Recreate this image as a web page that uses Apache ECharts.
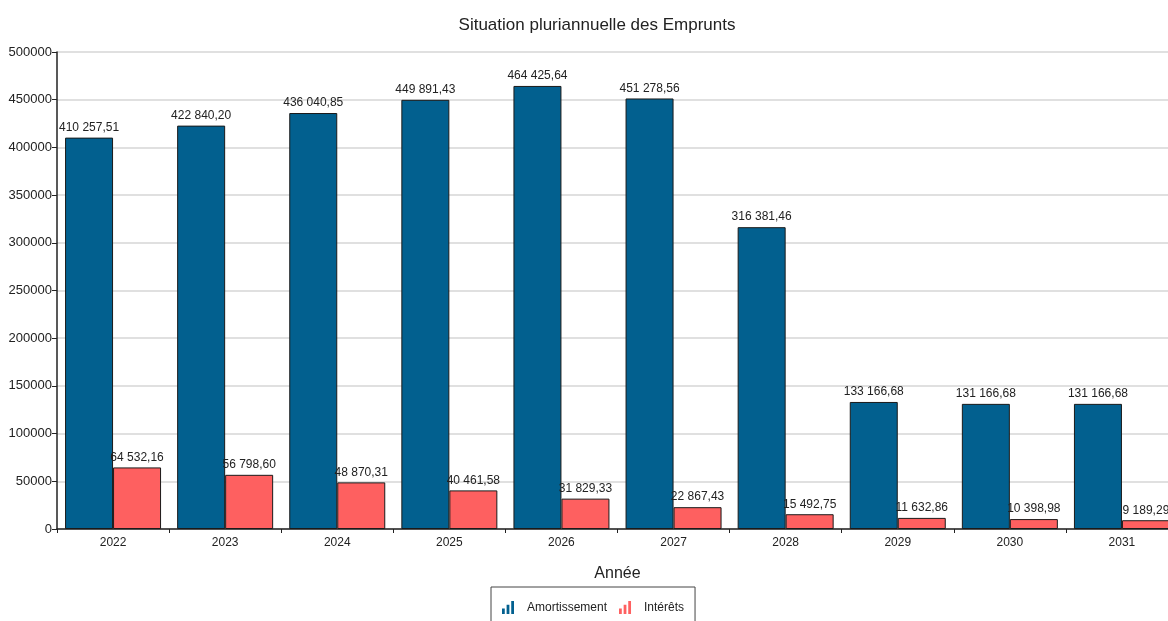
<!DOCTYPE html>
<html>
<head>
<meta charset="utf-8">
<script src="https://cdn.jsdelivr.net/npm/echarts@6/dist/echarts.min.js"></script>
<style>
  html, body { margin: 0; padding: 0; background: #fff; overflow: hidden; }
  /* the reference is a crop: the plot runs a little past the right edge */
  #chart { width: 1180px; height: 621px; }
</style>
</head>
<body>
<div id="chart"></div>
<script>
const years = ['2022', '2023', '2024', '2025', '2026', '2027', '2028', '2029', '2030', '2031'];
const amortissement = [410257.51, 422840.20, 436040.85, 449891.43, 464425.64, 451278.56, 316381.46, 133166.68, 131166.68, 131166.68];
const interets = [64532.16, 56798.60, 48870.31, 40461.58, 31829.33, 22867.43, 15492.75, 11632.86, 10398.98, 9189.29];

const FONT = '"Liberation Sans", Arial, sans-serif';
const barIcon = 'path://M0,8 h3 v6 h-3z M5,4 h3 v10 h-3z M10,0 h3 v14 h-3z';

// format "410 257,51"
function frNumber(v) {
  const parts = v.toFixed(2).split('.');
  const int = parts[0].replace(/\B(?=(\d{3})+(?!\d))/g, ' ');
  return int + ',' + parts[1];
}

const chart = echarts.init(document.getElementById('chart'));
chart.setOption({
  animation: false,
  textStyle: { fontFamily: FONT },
  title: {
    text: 'Situation pluriannuelle des Emprunts',
    left: 592,
    textAlign: 'center',
    top: 12,
    textStyle: { fontFamily: FONT, fontSize: 17, fontWeight: 'normal', color: '#222' }
  },
  legend: {
    left: 491,
    top: 587,
    padding: [14, 11, 12, 11],
    borderColor: '#444',
    borderWidth: 1,
    itemWidth: 12,
    itemHeight: 13,
    itemGap: 12,
    itemStyle: { borderWidth: 0 },
    textStyle: { fontFamily: FONT, fontSize: 12, color: '#222', padding: [0, 0, 0, 8] },
    data: [
      { name: 'Amortissement', icon: barIcon },
      { name: 'Intérêts', icon: barIcon }
    ]
  },
  grid: { left: 57, top: 52, width: 1121, height: 477 },
  xAxis: {
    type: 'category',
    data: years,
    name: 'Année',
    nameLocation: 'middle',
    nameGap: 37,
    nameTextStyle: { fontFamily: FONT, fontSize: 16, color: '#222' },
    axisLine: { lineStyle: { color: '#222', width: 1.5 } },
    axisTick: { show: true, length: 4, lineStyle: { color: '#222' } },
    axisLabel: { fontFamily: FONT, fontSize: 12, color: '#222', margin: 8 }
  },
  yAxis: {
    type: 'value',
    min: 0,
    max: 500000,
    interval: 50000,
    axisLine: { show: true, lineStyle: { color: '#222', width: 1.5 } },
    axisTick: { show: true, length: 5, lineStyle: { color: '#222' } },
    axisLabel: { fontFamily: FONT, fontSize: 13, color: '#222', margin: 5, formatter: v => String(v) },
    splitLine: { lineStyle: { color: '#d6d6d6', width: 1.5 } }
  },
  series: [
    {
      name: 'Amortissement',
      type: 'bar',
      data: amortissement,
      barWidth: 48,
      barGap: '0%',
      itemStyle: { color: '#02608f', borderColor: '#1a1a1a', borderWidth: 1 },
      label: {
        show: true,
        position: 'top',
        distance: 4,
        fontFamily: FONT,
        fontSize: 12,
        color: '#222',
        formatter: p => frNumber(p.value)
      }
    },
    {
      name: 'Intérêts',
      type: 'bar',
      data: interets,
      barWidth: 48,
      barGap: '0%',
      itemStyle: { color: '#fe6060', borderColor: '#1a1a1a', borderWidth: 1 },
      label: {
        show: true,
        position: 'top',
        distance: 4,
        fontFamily: FONT,
        fontSize: 12,
        color: '#222',
        formatter: p => frNumber(p.value)
      }
    }
  ]
});
</script>
</body>
</html>
